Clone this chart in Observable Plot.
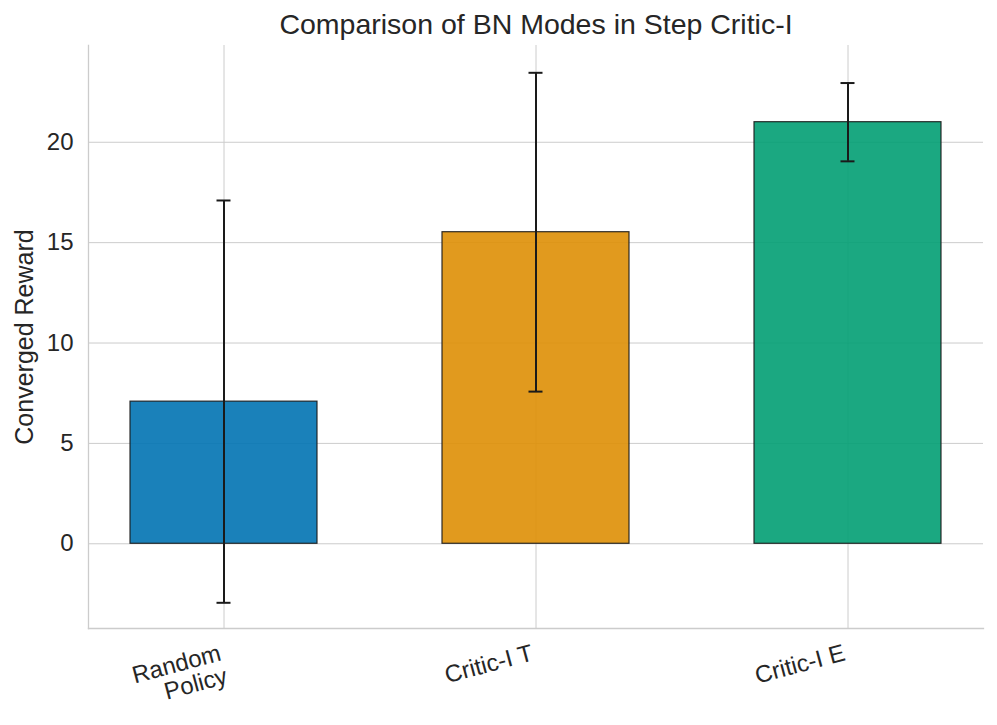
<!DOCTYPE html>
<html>
<head>
<meta charset="utf-8">
<script src="https://cdn.jsdelivr.net/npm/d3@7"></script>
<script src="https://cdn.jsdelivr.net/npm/@observablehq/plot@0.6"></script>
<style>
  html, body { margin: 0; padding: 0; background: white; }
  #chart svg { display: block; }
</style>
</head>
<body>
<div id="chart"></div>
<script>
const categories = ["Random\nPolicy", "Critic-I T", "Critic-I E"];
const means = [7.08, 15.52, 21.0];
const stds = [10.02, 7.94, 1.95];
const colors = ["#0173b2", "#de8f05", "#029e73"];
const yTicks = [0, 5, 10, 15, 20];
const title = "Comparison of BN Modes in Step Critic-I";
const yLabel = "Converged Reward";

const data = categories.map((name, i) => ({
  name, mean: means[i], lo: means[i] - stds[i], hi: means[i] + stds[i], color: colors[i]
}));

const ink = "#262626";
const chart = Plot.plot({
  width: 997,
  height: 725,
  marginLeft: 88,
  marginRight: 14,
  marginTop: 45,
  marginBottom: 97,
  style: { fontFamily: "'Liberation Sans', Arial, sans-serif", background: "white", color: ink },
  x: { domain: categories, paddingInner: 0.4, paddingOuter: 0.13 },
  y: { domain: [-4.22, 24.82] },
  color: { type: "identity" },
  marks: [
    Plot.gridY(yTicks, { stroke: "#cccccc", strokeOpacity: 1, strokeWidth: 1 }),
    Plot.gridX(categories, { stroke: "#cccccc", strokeOpacity: 1, strokeWidth: 1 }),
    Plot.frame({ anchor: "left", stroke: "#cccccc", strokeWidth: 1.3 }),
    Plot.frame({ anchor: "bottom", stroke: "#cccccc", strokeWidth: 1.3 }),
    Plot.barY(data, { x: "name", y1: 0, y2: "mean", fill: "color", fillOpacity: 0.9, stroke: "#1a1a1a", strokeOpacity: 0.9, strokeWidth: 1.2 }),
    Plot.ruleX(data, { x: "name", y1: "lo", y2: "hi", stroke: "#1a1a1a", strokeWidth: 2 }),
    Plot.tickY(data, { x: "name", y: "lo", stroke: "#1a1a1a", strokeWidth: 2, insetLeft: 86.5, insetRight: 86.5 }),
    Plot.tickY(data, { x: "name", y: "hi", stroke: "#1a1a1a", strokeWidth: 2, insetLeft: 86.5, insetRight: 86.5 }),
    Plot.axisY(yTicks, { tickSize: 0, tickPadding: 15, fontSize: 24, label: null, color: ink }),
    Plot.text([yLabel], { text: d => d, frameAnchor: "left", dx: -64, rotate: -90, textAnchor: "middle", lineAnchor: "middle", fontSize: 25, fill: ink }),
    Plot.axisX({ tickSize: 0, tickPadding: 15, dx: -6, tickRotate: -15, lineAnchor: "top", fontSize: 24, label: null, color: ink }),
    Plot.text([title], { text: d => d, frameAnchor: "top", dy: -20.5, lineAnchor: "middle", fontSize: 28.5, fill: ink })
  ]
});
document.getElementById("chart").appendChild(chart);
</script>
</body>
</html>
